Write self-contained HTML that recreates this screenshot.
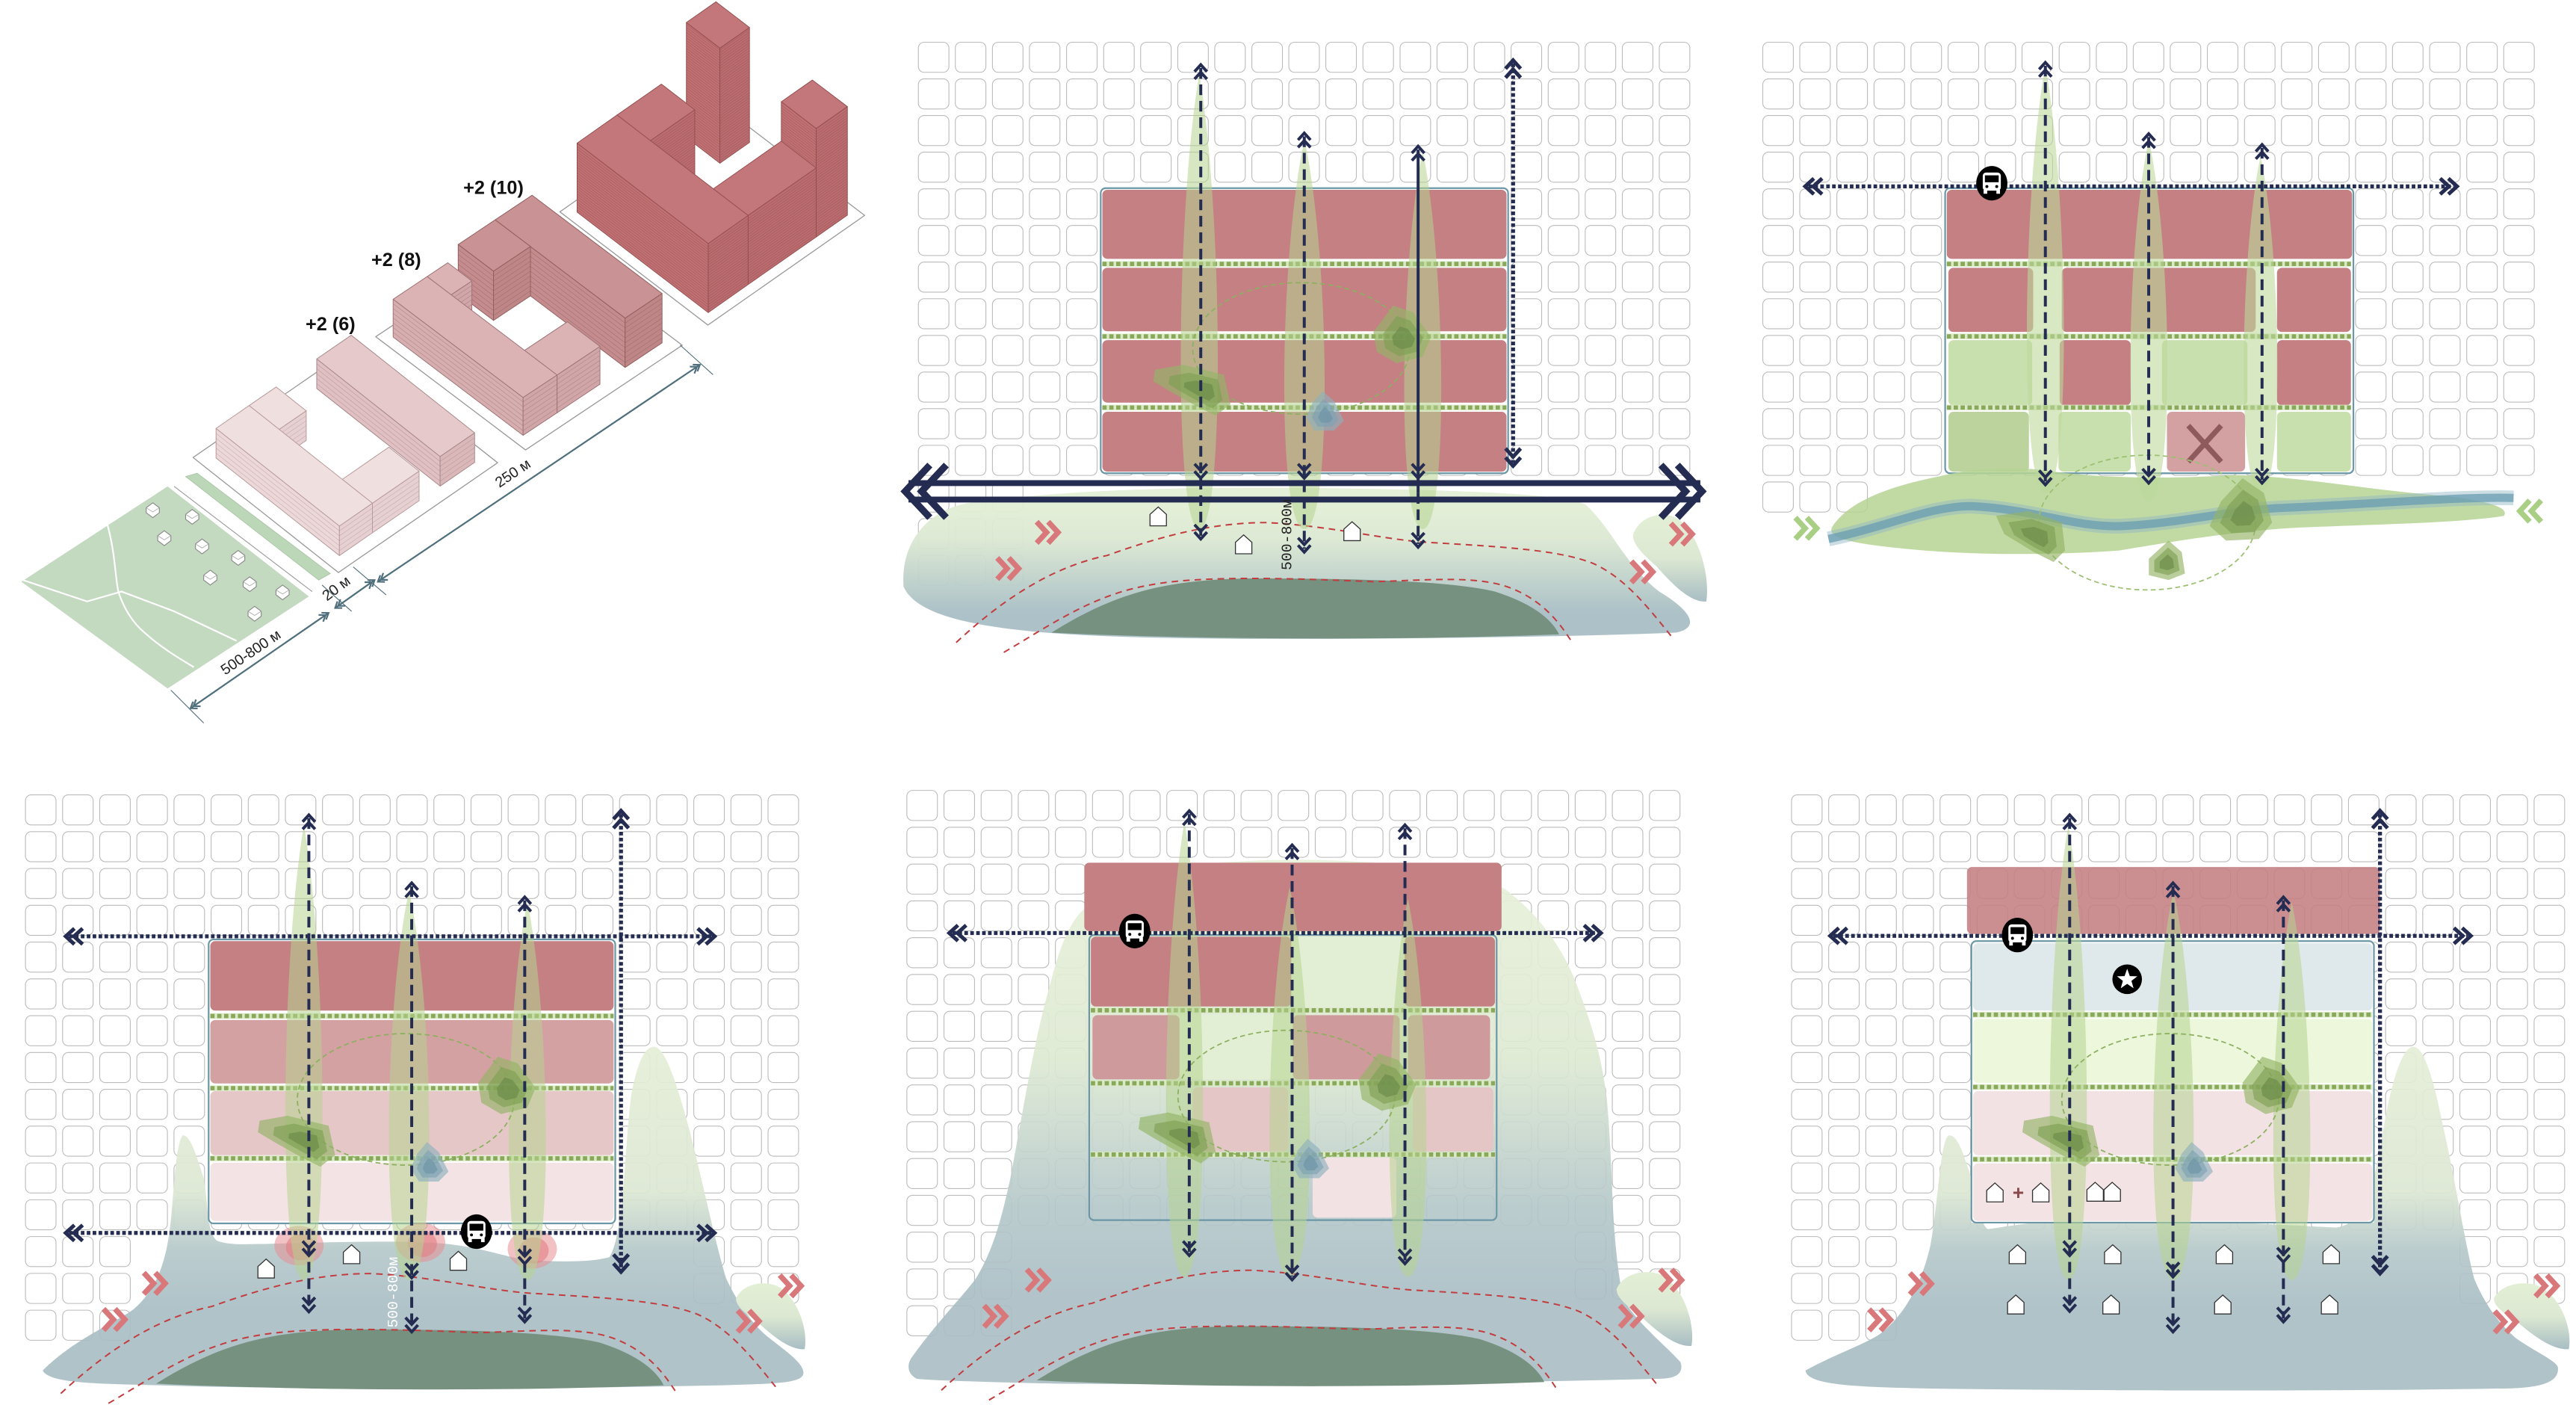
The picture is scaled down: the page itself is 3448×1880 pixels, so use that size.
<!DOCTYPE html>
<html><head><meta charset="utf-8"><style>html,body{margin:0;padding:0;background:#fff}svg{display:block}</style></head>
<body>
<svg id="s" xmlns="http://www.w3.org/2000/svg" width="3448" height="1880" viewBox="0 0 1568 855" preserveAspectRatio="none" font-family="'Liberation Sans Narrow','Liberation Sans',sans-serif">
<defs>
<linearGradient id="m2" gradientUnits="userSpaceOnUse" x1="0" y1="305" x2="0" y2="372"><stop offset="0" stop-color="#e4efd6"/><stop offset=".35" stop-color="#dbe8d2"/><stop offset="1" stop-color="#a9bfc5"/></linearGradient>
<linearGradient id="m4" gradientUnits="userSpaceOnUse" x1="0" y1="640" x2="0" y2="795"><stop offset="0" stop-color="#e4eed6"/><stop offset=".55" stop-color="#dce7d3"/><stop offset=".78" stop-color="#b5c8ca"/><stop offset="1" stop-color="#a9bec4"/></linearGradient>
<linearGradient id="m5" gradientUnits="userSpaceOnUse" x1="0" y1="530" x2="0" y2="785"><stop offset="0" stop-color="#e6f0d8"/><stop offset=".45" stop-color="#dde9d2"/><stop offset=".8" stop-color="#b4c7c9"/><stop offset="1" stop-color="#a9bec4"/></linearGradient>
<linearGradient id="rb" x1="0" y1="0" x2="0" y2="1"><stop offset="0" stop-color="#e3efd5"/><stop offset=".5" stop-color="#dce8d2"/><stop offset="1" stop-color="#a9bec4"/></linearGradient>
</defs>
<g id="gen"></g>
<g font-weight="bold" font-size="11.5" fill="#111">
<text x="186" y="201">+2 (6)</text>
<text x="226" y="162">+2 (8)</text>
<text x="282" y="118">+2 (10)</text>
</g>
<g font-size="9" fill="#222">
<text transform="translate(137,411) rotate(-34)">500-800 м</text>
<text transform="translate(199,366) rotate(-37)">20 м</text>
<text transform="translate(304,297) rotate(-34)">250 м</text>
</g>
<text transform="translate(786,347) rotate(-90)" font-size="9" fill="#222" font-family="'Liberation Mono','DejaVu Sans Mono',monospace">500-800м</text>
<text transform="translate(242,808) rotate(-90)" font-size="9" fill="#fff" font-family="'Liberation Mono','DejaVu Sans Mono',monospace">500-800м</text>
<text x="1225" y="730" font-size="12" font-weight="bold" fill="#8a4a4c" font-family="'Liberation Sans',sans-serif">+</text>
</svg>
<script>
let o='';const add=s=>o+=s;
const f1=v=>(+v).toFixed(1);
function P(a){return a.map(p=>f1(p[0])+','+f1(p[1])).join(' ');}
function poly(a,at){add(`<polygon points="${P(a)}" ${at}/>`);}
function pl(a,at){add(`<polyline points="${P(a)}" fill="none" ${at}/>`);}
function grid(x0,y0,cols,rows,px,py,ex){for(let i=0;i<cols;i++){let r=(ex&&ex(i))||rows;for(let j=0;j<r;j++)add(`<rect x="${f1(x0+i*px)}" y="${f1(y0+j*py)}" width="18.6" height="18.3" rx="3.5" fill="#fff" stroke="#bbb" stroke-width=".5"/>`);}}
function S(L,V,U){return (s,t,z)=>[L[0]+s*U[0]+t*V[0],L[1]+s*U[1]+t*V[1]-z];}
function box(f,s0,s1,t0,t1,h,c,step,noLeft){
 const lf=[f(s0,t0,0),f(s0,t1,0),f(s0,t1,h),f(s0,t0,h)],fr=[f(s0,t1,0),f(s1,t1,0),f(s1,t1,h),f(s0,t1,h)],tp=[f(s0,t0,h),f(s1,t0,h),f(s1,t1,h),f(s0,t1,h)];
 const st=`stroke="${c[3]}" stroke-width=".45" stroke-linejoin="round"`;
 if(!noLeft)poly(lf,`fill="${c[1]}" ${st}`);poly(fr,`fill="${c[2]}" ${st}`);
 for(let z=step;z<h-0.4;z+=step){pl(noLeft?[f(s0,t1,z),f(s1,t1,z)]:[f(s0,t0,z),f(s0,t1,z),f(s1,t1,z)],`stroke="${c[3]}" stroke-width=".3" opacity=".6"`);}
 poly(tp,`fill="${c[0]}" ${st}`);
}
function site(f){poly([f(-.03,-.03,0),f(1.03,-.03,0),f(1.03,1.03,0),f(-.03,1.03,0)],'fill="#fff" stroke="#9a9a9a" stroke-width=".6" stroke-linejoin="round"');}
poly([[13,354],[102,296],[188,363],[102,419]],'fill="#c3dac0"');
pl([[14,353],[53,366],[74,360],[106,372],[144,390]],'stroke="#fff" stroke-width="1"');
add('<path d="M65,318 C70,335 70,350 72,360 C76,372 82,380 88,385 C98,394 108,400 118,406" fill="none" stroke="#fff" stroke-width="1"/>');
[[93,310],[117,314],[100,327],[123,332],[145,339],[128,351],[152,355],[172,360],[155,373]].forEach(([x,y])=>{poly([[x,y-4],[x+4,y-1],[x+4,y+2],[x,y+5],[x-4,y+2],[x-4,y-1]],'fill="#fff" stroke="#888" stroke-width=".5"');pl([[x-4,y-1],[x,y+1.5],[x+4,y-1]],'stroke="#aaa" stroke-width=".4"');});
poly([[113,290],[120,288],[201,349],[194,353]],'fill="#bcd7b8" stroke="#a8c6a4" stroke-width=".4"');
pl([[106,296],[190,360]],'stroke="#999" stroke-width=".5"');
const S1=S([122.7,278.5],[83.5,66],[91.5,-63]),S2=S([234,205],[86,65],[90,-60]),S3=S([346,129],[85,65],[90,-63]);
site(S1);site(S2);site(S3);
const cL=['#f0dfdf','#ecd8d8','#e6d0d1','#b89a9c'],cD=['#e6c9ca','#e0c0c2','#dab8ba','#a88a8c'],c8=['#dbb3b4','#d6aeaf','#d0a6a8','#9f7476'],c10=['#c99395','#c48c8e','#bf8688','#93605f'],c4=['#c4777a','#c17174','#bb6c70','#94504f'];
box(S1,.72,.95,.05,.95,18,cD,3);box(S1,.27,.45,.05,.27,18,cL,3);box(S1,.05,.27,.05,.95,18,cL,3);box(S1,.27,.58,.73,.95,18,cL,3,true);
box(S2,.72,.97,.03,.95,30,c10,3);box(S2,.47,.72,.03,.28,30,c10,3);
box(S2,.26,.4,.03,.2,23,c8,2.9);box(S2,.03,.26,.03,.95,23,c8,2.9);box(S2,.26,.55,.72,.95,23,c8,2.9,true);
box(S3,.76,.96,.04,.28,70,c4,1.6);box(S3,.3,.6,.03,.27,42,c4,1.6);box(S3,.03,.3,.03,.97,42,c4,1.6);box(S3,.76,.97,.72,.97,66,c4,1.6);box(S3,.3,.76,.72,.97,42,c4,1.6,true);
const dc='stroke="#4f6f7c" stroke-width="1"';
function dim(a,b){pl([a,b],dc);const dx=b[0]-a[0],dy=b[1]-a[1],L=Math.hypot(dx,dy),ux=dx/L,uy=dy/L,nx=-uy,ny=ux;
 [[a,1],[b,-1]].forEach(([p,d])=>{[0,2.2].forEach(k=>{const q=[p[0]+ux*d*k,p[1]+uy*d*k];pl([[q[0]+ux*d*3.5+nx*2.5,q[1]+uy*d*3.5+ny*2.5],q,[q[0]+ux*d*3.5-nx*2.5,q[1]+uy*d*3.5-ny*2.5]],dc);});});}
dim([116,431],[200,373]);dim([204,370],[228,353]);dim([230,354],[426,222]);
pl([[104,420],[124,440]],'stroke="#4f6f7c" stroke-width=".5"');pl([[196,356],[214,372]],'stroke="#4f6f7c" stroke-width=".5"');pl([[215,345],[235,362]],'stroke="#4f6f7c" stroke-width=".5"');pl([[414,210],[434,228]],'stroke="#4f6f7c" stroke-width=".5"');
const NV='#242c52';
function chev(x,y,dir,s,w){const k=s*1.1;let a;if(dir=='u')a=[[x-s,y+k],[x,y],[x+s,y+k]];else if(dir=='d')a=[[x-s,y-k],[x,y],[x+s,y-k]];else if(dir=='l')a=[[x+k,y-s],[x,y],[x+k,y+s]];else a=[[x-k,y-s],[x,y],[x-k,y+s]];pl(a,`stroke="${NV}" stroke-width="${w}" stroke-linejoin="miter"`);}
function va(x,y1,y2,type,mid){const dot=type=='dot';const s=dot?4.6:3.8,w=dot?2.3:1.8;
 if(type=='solid3'){pl([[x,y1+2],[x,300]],`stroke="${NV}" stroke-width="1.8"`);pl([[x,300],[x,y2-2]],`stroke="${NV}" stroke-width="1.8" stroke-dasharray="6.5 3.5"`);}
 else pl([[x,y1+2],[x,y2-2]],`stroke="${NV}" stroke-width="${dot?2.4:1.8}" stroke-dasharray="${dot?'2.2 1.4':'6.5 3.5'}"`);
 chev(x,y1,'u',s,w);chev(x,y1+s*1.2,'u',s,w);chev(x,y2,'d',s,w);chev(x,y2-s*1.2,'d',s,w);
 if(mid){chev(x,mid,'d',s,w);chev(x,mid-s*1.2,'d',s,w);}}
function ha(y,x1,x2){pl([[x1+2,y],[x2-2,y]],`stroke="${NV}" stroke-width="2.4" stroke-dasharray="2.2 1.4"`);chev(x1,y,'l',4.8,2.3);chev(x1+5,y,'l',4.8,2.3);chev(x2,y,'r',4.8,2.3);chev(x2-5,y,'r',4.8,2.3);}
function house(x,y){add(`<path d="M${x},${y-6.5}L${x+5},${y-2}L${x+5},${y+5}L${x-5},${y+5}L${x-5},${y-2}Z" fill="#fff" stroke="#333" stroke-width=".6"/>`);}
function bus(x,y){add(`<ellipse cx="${x}" cy="${y}" rx="9.5" ry="10.5" fill="#000"/><rect x="${x-5.5}" y="${y-6.5}" width="11" height="11" rx="2" fill="#fff"/><rect x="${x-4.2}" y="${y-4.8}" width="8.4" height="4.2" fill="#000"/><rect x="${x-5}" y="${y+4}" width="2.2" height="2.4" fill="#fff"/><rect x="${x+2.8}" y="${y+4}" width="2.2" height="2.4" fill="#fff"/><circle cx="${x-3}" cy="${y+2}" r=".9" fill="#000"/><circle cx="${x+3}" cy="${y+2}" r=".9" fill="#000"/>`);}
function rchev(x,y,col,dir){const d=dir=='l'?-1:1;[[0],[7]].forEach(([k])=>pl([[x+d*(k-6),y-6.5],[x+d*k,y],[x+d*(k-6),y+6.5]],`stroke="${col}" stroke-width="3.3" stroke-linejoin="miter"`));}
function streak(x,t,b,w,col,op){w*=1.3;add(`<path d="M${x},${t} C${x+w},${t+(b-t)*.3} ${x+w*1.1},${b} ${x},${b} C${x-w*1.1},${b} ${x-w},${t+(b-t)*.3} ${x},${t}Z" fill="${col||'#b6d490'}" opacity="${op||.55}"/>`);}
function blob(pts,cx,cy,col){const cs=col||['#93b466','#7f9f55','#6a8a48'];[1,.7,.4].forEach((k,i)=>poly(pts.map(p=>[cx+(p[0]-cx)*k,cy+(p[1]-cy)*k]),`fill="${cs[i]}" opacity=".65"`));}
function blueblob(pts,cx,cy){blob(pts,cx,cy,['#8fb0bd','#7ea2b2','#6d93a6']);}
function rblob(x0,y0,x1,y1){const w=x1-x0,h=y1-y0;add(`<path d="M${x0},${y0+h*.25} C${x0+w*.1},${y0} ${x0+w*.45},${y0-h*.02} ${x0+w*.6},${y0+h*.08} C${x0+w*.85},${y0+h*.25} ${x1},${y0+h*.7} ${x1-w*.05},${y1} C${x1-w*.25},${y1+h*.02} ${x0+w*.5},${y0+h*.8} ${x0+w*.3},${y0+h*.6} C${x0+w*.1},${y0+h*.45} ${x0},${y0+h*.35} ${x0},${y0+h*.25}Z" fill="url(#rb)"/>`);}
function darkmound(){add('<path d="M640,385 C680,360 710,353 760,352 C820,352 880,353 910,360 C935,368 945,378 949,386 C850,390 720,389 640,385Z" fill="#76917f"/>');}
function dashes(){const a='fill="none" stroke="#c23c3e" stroke-width=".9" stroke-dasharray="4 3"';add(`<path d="M582,391 C610,365 640,345 674,338 C710,325 740,318 771,318 C810,320 840,328 868,330 C920,333 950,335 970,343 C990,352 1005,372 1018,388" ${a}/><path d="M611,397 C640,380 665,362 700,356 C730,350 790,352 836,354 C870,353 900,350 920,358 C940,366 950,380 957,391" ${a}/>`);}
function dotline(y,x1,x2){pl([[x1,y],[x2,y]],'stroke="#dbe9c6" stroke-width="3.4"');pl([[x1,y],[x2,y]],'stroke="#89a95a" stroke-width="2.6" stroke-dasharray="2.6 1.6"');}
function common(){
 streak(730,45,322,11);streak(794,85,322,12);streak(866,92,322,11);
 add('<ellipse cx="792" cy="212" rx="66" ry="40" fill="none" stroke="#8cb05f" stroke-width=".8" stroke-dasharray="3 2"/>');
 blob([[703,225],[720,222],[745,228],[749,246],[740,253],[728,247],[712,238],[702,232]],733,238);
 blob([[848,186],[860,190],[871,205],[866,217],[850,221],[838,214],[836,202]],855,207);
 blueblob([[805,238],[812,244],[818,256],[812,262],[800,262],[795,254],[799,245]],807,254);}
const tr=(dx,dy,fn)=>{add(`<g transform="translate(${dx},${dy})">`);fn();add('</g>');};
function rows(x0,x1,list){add(`<rect x="${x0-1}" y="${list[0][0]-1}" width="${x1-x0+2}" height="${list[list.length-1][1]-list[0][0]+2}" fill="#fff"/>`);list.forEach(r=>{if(r[2])add(`<rect x="${x0}" y="${r[0]}" width="${x1-x0}" height="${r[1]-r[0]}" rx="3" fill="${r[2]}"/>`);});}
function outline(x0,y0,x1,y1){add(`<rect x="${x0}" y="${y0}" width="${x1-x0}" height="${y1-y0}" rx="3" fill="none" stroke="#6b97a6" stroke-width="1"/>`);}
const R='#c48083';
// Panel 2
grid(559,25.7,21,12,22.55,22.3,i=>i<3?15:0);
add('<path d="M550,357 C548,330 565,310 590,306 C650,298 720,296 800,297 C880,298 950,300 965,307 C980,320 990,345 1010,360 C1030,372 1035,382 1020,385 C950,388 780,390 700,388 C620,386 560,380 550,357 Z" fill="url(#m2)" opacity=".95"/>');
rblob(994,312,1041,366);darkmound();dashes();
rows(671,917,[[115.5,157.5,R],[163,201.6,R],[207,245,R],[250.6,287,R]]);
dotline(160.6,671,917);dotline(204.7,671,917);dotline(248,671,917);outline(670,114.5,918,288);
common();
pl([[553,294],[1035,294]],`stroke="${NV}" stroke-width="3.6"`);pl([[553,304],[1035,304]],`stroke="${NV}" stroke-width="3.6"`);
[[566],[576]].forEach(([x])=>pl([[x,283],[x-15,299],[x,315]],`stroke="${NV}" stroke-width="4.2"`));
[[1021],[1011]].forEach(([x])=>pl([[x,283],[x+15,299],[x,315]],`stroke="${NV}" stroke-width="4.2"`));
va(730.9,39.4,328,'dash',291);va(793.9,81,336,'dash',291);va(863.2,89,333,'solid3',291);va(921,36.7,283.5,'dot');
house(705,315);house(757,332);house(823,324);
rchev(637,324,'#d9787a');rchev(613,346,'#d9787a');rchev(1023,325,'#d9787a');rchev(999,348,'#d9787a');
// Panel 3
grid(1073,25.7,21,12,22.55,22.3,i=>i<3?13:0);
rows(1185,1431.7,[[115.5,157.5,R],[163,202,null],[207,246.7,null],[250.6,287,null]]);
[[1186,163,1237.6,202,R],[1255,163,1373,202,R],[1386,163,1431,202,R],[1186,207,1237,246.7,'#c8dfae'],[1253.7,207,1297,246.7,R],[1316,207,1368,246.7,'#c8dfae'],[1386,207,1431,246.7,R],[1186,250.6,1235,287,'#bcd39e'],[1253,250.6,1297,287,'#c8dfae'],[1319,250.6,1366.6,287,'#d4a1a3'],[1386,250.6,1431,287,'#c8dfae']].forEach(r=>add(`<rect x="${r[0]}" y="${r[1]}" width="${r[2]-r[0]}" height="${r[3]-r[1]}" rx="3" fill="${r[4]}"/>`));
pl([[1332,259],[1352,281]],'stroke="#8e5a5c" stroke-width="3.2"');pl([[1352,259],[1332,281]],'stroke="#8e5a5c" stroke-width="3.2"');
dotline(160.6,1185,1431);dotline(204.7,1185,1431);dotline(248,1185,1431);outline(1184,114.5,1432.5,288);
add('<path d="M1115,321 C1125,305 1150,296 1180,290 C1200,285 1225,283 1250,287 C1290,292 1330,291 1360,289 C1400,290 1440,298 1490,302 C1515,305 1528,309 1524,314 C1500,318 1450,319 1400,321 C1360,323 1320,330 1290,335 C1250,338 1200,338 1160,334 C1130,331 1112,328 1115,321Z" fill="#b6d494" opacity=".85"/>');
const rv='M1113,328 C1150,320 1175,308 1200,308 C1240,310 1265,322 1294,320 C1330,318 1360,310 1391,309 C1440,307 1500,302 1530,303';
add(`<path d="${rv}" fill="none" stroke="#8fb3c4" stroke-width="9" opacity=".45"/><path d="${rv}" fill="none" stroke="#6a9cb1" stroke-width="5" opacity=".75"/>`);
streak(1245,40,300,11,'#bcd99b',.6);streak(1308,85,305,11,'#bcd99b',.6);streak(1376,95,300,10,'#bcd99b',.6);
add('<ellipse cx="1307" cy="318" rx="66" ry="41" fill="none" stroke="#9cc070" stroke-width=".8" stroke-dasharray="3 2"/>');
blob([[1215,314],[1235,311],[1255,318],[1257,335],[1250,342],[1238,336],[1220,325]],1240,327);
blob([[1365,291],[1378,300],[1383,318],[1375,328],[1355,329],[1345,320],[1352,305]],1366,314);
blob([[1320,329],[1328,336],[1330,349],[1320,353],[1308,350],[1308,340]],1319,343);
ha(113.4,1098.8,1495.6);
va(1245,38,295,'dash');va(1307.9,81.4,294,'dash');va(1376.9,88,294,'dash');
bus(1212.4,111.5);
rchev(1098.8,321.5,'#a9cf85');rchev(1540.8,311,'#a9cf85','l');
// Panel 4
grid(15.5,483.7,21,12,22.6,22.4,i=>i<3?15:(i>17?14:0));
add('<path d="M26,834 C45,815 70,805 81,797 C95,785 100,770 103,751 C106,730 106,700 111,691 C116,690 120,705 124,717 C127,735 126,750 132,755 C140,758 150,757 161,757 C200,756 230,755 258,756 C290,757 305,765 323,767 C345,768 360,768 371,765 C380,750 380,700 384,668 C388,645 393,637 398,637 C405,637 412,660 419,685 C428,720 435,755 442,778 C450,795 460,808 468,814 C478,822 490,830 489,836 C488,842 470,842 440,843 C300,846 150,845 97,843 C60,842 30,842 26,834Z" fill="url(#m4)" opacity=".92"/>');
rblob(448,780,492,821);tr(-545,457,()=>{darkmound();dashes();});
rows(128,373.5,[[572.7,615,R],[620.7,659.3,'#d4a1a2'],[664,703,'#e6c7c8'],[707.6,743,'#f3e3e4']]);
dotline(618.3,128,373.5);dotline(662.2,128,373.5);dotline(704.9,128,373.5);outline(127,571.7,374.5,744.5);
[[182,758],[256,756],[324,760]].forEach(([x,y])=>{add(`<ellipse cx="${x}" cy="${y}" rx="15" ry="12" fill="#e88e92" opacity=".55"/><ellipse cx="${x+1}" cy="${y+1}" rx="9" ry="8" fill="#e27f84" opacity=".6"/>`);});
tr(-545,457,common);
ha(569.8,40,435);ha(750.3,40,435);
va(188,495.9,798.3,'dash',764);va(250.6,537.3,810.5,'dash',777.6);va(319.4,545.9,804.4,'dash',769);va(378,493.4,774,'dot');
bus(290,749.5);house(162,772.7);house(214,764);house(279,768);
rchev(93.5,781,'#d9787a');rchev(69,803,'#d9787a');rchev(480.6,782.5,'#d9787a');rchev(455,804,'#d9787a');
// Panel 5
grid(552,481,21,12,22.6,22.4,i=>i<3?15:(i>17?14:0));
add('<path d="M555,826 C570,805 585,790 594,778 C605,760 610,740 615,717 C622,680 630,630 639,600 C645,575 652,560 660,553 C675,540 690,532 707,529 C740,524 780,522 820,524 C860,526 895,530 916,541 C935,555 950,575 958,595 C970,625 975,645 978,668 C981,700 981,730 983,753 C985,775 987,790 991,795 C1000,808 1015,820 1023,829 C1025,836 1020,839 1010,839 C900,842 750,843 642,842 C600,841 565,840 558,839 C552,836 552,830 555,826Z" fill="url(#m5)" opacity=".9"/>');
rblob(984,773,1032,819);tr(-9,455,()=>{darkmound();dashes();});
add(`<rect x="660" y="525" width="254" height="41.6" rx="3" fill="${R}"/>`);
[[664,570,786,612.5,R],[786,570,855,612.5,'#e3efd5'],[855,570,910,612.5,R],[665,617.8,718,656.8,'#cf9a9c'],[718,617.8,787,656.8,'#e3efd5'],[787,617.8,852,656.8,'#cf9a9c'],[857,617.8,907,656.8,'#cf9a9c'],[726,661.7,784,700.7,'#e5c6c7'],[860,661.7,909,700.7,'#e5c6c7'],[799,704.4,850,741,'#f2e2e3']].forEach(r=>add(`<rect x="${r[0]}" y="${r[1]}" width="${r[2]-r[0]}" height="${r[3]-r[1]}" rx="3" fill="${r[4]}"/>`));
dotline(614.8,664,910);dotline(659.2,664,910);dotline(702.6,664,910);outline(663,569,911,742.5);
tr(-9,455,common);
ha(567.8,577.8,974.5);
va(723.9,493.4,764,'dash');va(786.5,514.2,778.8,'dash');va(855.2,502,769,'dash');
bus(690.7,566.6);
rchev(631,779,'#d9787a');rchev(605,801,'#d9787a');rchev(1016.5,779,'#d9787a');rchev(992,801,'#d9787a');
// Panel 6
grid(1090.5,483.7,21,12,22.6,22.4,i=>i<3?15:(i>17?14:0));
add('<path d="M1099,834 C1115,825 1135,818 1144,812 C1160,800 1170,780 1175,758 C1180,730 1181,695 1186,691 C1192,690 1196,705 1200,717 C1205,730 1205,745 1210,748 C1230,745 1250,742 1268,742 C1290,741 1310,743 1330,743 C1370,744 1400,746 1422,747 C1440,745 1445,720 1450,692 C1455,660 1462,637 1469,637 C1476,637 1482,660 1487,685 C1495,720 1500,755 1506,778 C1513,795 1522,806 1531,814 C1542,822 1556,828 1557,832 C1558,842 1545,845 1520,845 C1400,847 1250,846 1175,845 C1130,844 1100,843 1099,834Z" fill="url(#m4)" opacity=".92"/>');
rblob(1518,780,1566,821);
add(`<rect x="1197.3" y="527.6" width="251.4" height="40.7" rx="3" fill="${R}" opacity=".88"/>`);
rows(1201,1444,[[574,615,'#dfe8ea'],[620,659,'#ecf7dc'],[664,703,'#f2e2e4'],[708,743,'#f3e3e5']]);
dotline(617.5,1201,1444);dotline(661.5,1201,1444);dotline(705.5,1201,1444);outline(1200,572.7,1445,744);
tr(529,457,common);
ha(569.5,1114,1504);
va(1259.8,495.9,798,'dash',764);va(1322.7,537.3,810.5,'dash',777);va(1389.9,545.9,804.4,'dash',768);va(1448.7,493.4,775,'dot');
bus(1228,569);
add('<circle cx="1294.8" cy="595.9" r="9" fill="#000"/><polygon points="1294.8,589.5 1296.4,594 1301,594.1 1297.4,596.9 1298.7,601.4 1294.8,598.7 1290.9,601.4 1292.2,596.9 1288.6,594.1 1293.2,594" fill="#fff"/>');
house(1214.3,726.4);house(1242.2,726.4);house(1275.3,726);house(1285.7,726);
[1228,1286,1354,1419].forEach(x=>{house(x,764);house(x-1,794.6);});
rchev(1168.5,781.2,'#d9787a');rchev(1143.7,803.2,'#d9787a');rchev(1549.3,782.5,'#d9787a');rchev(1524.5,804.4,'#d9787a');
document.getElementById('gen').innerHTML=o;
</script>
</body></html>
